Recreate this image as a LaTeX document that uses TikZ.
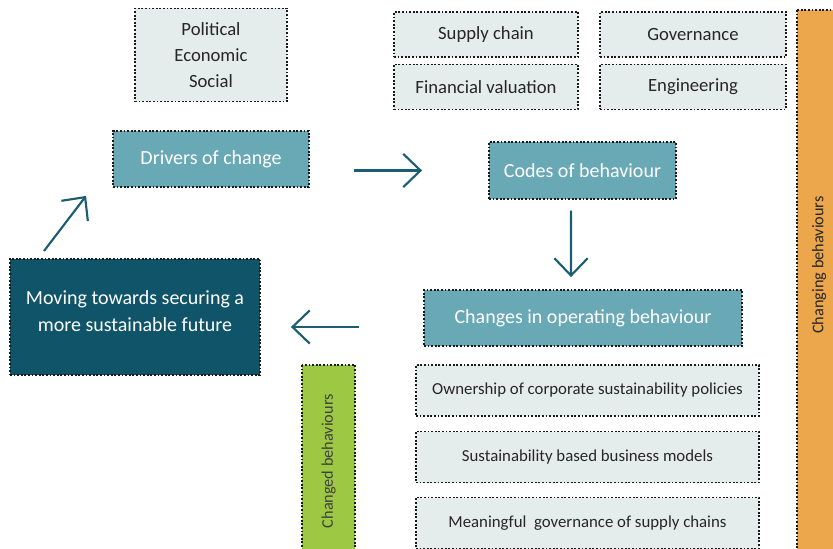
\documentclass[tikz,border=0pt]{standalone}
\usepackage{fontspec}
\setmainfont{Carlito}
\usetikzlibrary{arrows.meta}
\definecolor{paleteal}{HTML}{E5EDEC}
\definecolor{midteal}{HTML}{69A8B5}
\definecolor{darkteal}{HTML}{0F5468}
\definecolor{arrowteal}{HTML}{1B5E72}
\definecolor{leafgreen}{HTML}{9CC843}
\definecolor{sandorange}{HTML}{ECA64B}
\tikzset{
  box/.style={draw=black!90, line width=1.4pt, dash pattern=on 1.4pt off 1.3pt,
    align=center, inner sep=0pt},
  pale/.style={box, fill=paleteal, text=black!85},
  mid/.style={box, fill=midteal, text=white, font=\fontsize{15}{18}\selectfont},
  flow/.style={draw=arrowteal, line width=1.6pt,
    -{Straight Barb[length=13pt,width=25pt,line width=1.6pt]}}
}
\begin{document}
\begin{tikzpicture}[x=0.75pt,y=-0.75pt]
\useasboundingbox (0,0) rectangle (833,549);
% drivers
\node[pale, minimum width=114pt, minimum height=69.75pt,
  font=\fontsize{14}{19.5}\selectfont] (pes) at (211,55) {Political\\Economic\\Social};
\node[mid, minimum width=147pt, minimum height=42pt] (drivers) at (211,159) {Drivers of change};
% codes
\node[pale, minimum width=138pt, minimum height=33.75pt, font=\fontsize{14}{17}\selectfont] (supply) at (486,34.5) {Supply chain};
\node[pale, minimum width=138pt, minimum height=33.75pt, font=\fontsize{14}{17}\selectfont] (valuation) at (486,87) {Financial valuation};
\node[pale, minimum width=139.5pt, minimum height=33.75pt, font=\fontsize{14}{17}\selectfont] (governance) at (693,34.5) {Governance};
\node[pale, minimum width=139.5pt, minimum height=33.75pt, font=\fontsize{14}{17}\selectfont] (engineering) at (693,87) {Engineering};
\node[mid, minimum width=140.25pt, minimum height=42.75pt] (codes) at (582.5,170.5) {Codes of behaviour};
% operating behaviour
\node[mid, minimum width=238.5pt, minimum height=42pt] (changes) at (583,318) {Changes in operating behaviour};
\node[pale, minimum width=257.25pt, minimum height=38.25pt, font=\fontsize{12.6}{15}\selectfont] (ownership) at (587.5,390.5) {Ownership of corporate sustainability policies};
\node[pale, minimum width=257.25pt, minimum height=38.25pt, font=\fontsize{12.6}{15}\selectfont] (models) at (587.5,457) {Sustainability based business models};
\node[pale, minimum width=257.25pt, minimum height=38.25pt, font=\fontsize{12.6}{15}\selectfont] (supplygov) at (587.5,523) {Meaningful\ \ governance of supply chains};
% future
\node[box, fill=darkteal, minimum width=187.5pt, minimum height=87pt] (future) at (135,317) {};
\node[text=white, align=center, font=\fontsize{15}{20.25}\selectfont] (futuretext) at (135,311)
  {Moving towards securing a\\more sustainable future};
% side bars
\node[box, fill=leafgreen, text=black!75, rotate=90, minimum width=140.25pt, minimum height=39.75pt,
  font=\fontsize{12.2}{14}\selectfont] (changed) at (328.5,458.5) {Changed behaviours\hspace{4pt}\mbox{}};
\node[box, fill=sandorange, text=black!85, rotate=90, minimum width=406.5pt, minimum height=33pt,
  font=\fontsize{12.2}{15}\selectfont] (changing) at (819,281) {\hspace*{24pt}Changing behaviours};
% arrows
\coordinate (rise) at (44,251);
\draw[flow] (rise) -- ([xshift=-19.5pt,yshift=-6pt]drivers.south west);
\draw[flow, shorten <=33pt, shorten >=49.5pt] (drivers.east |- codes.west) -- (codes.west);
\draw[flow, shorten <=8pt, shorten >=9pt] ([xshift=-8.6pt]codes.south) -- ([xshift=-9pt]changes.north);
\draw[flow, shorten <=48pt, shorten >=22.5pt] ([yshift=-6.75pt]changes.west) -- ([yshift=-7.5pt]future.east);
\end{tikzpicture}
\end{document}
